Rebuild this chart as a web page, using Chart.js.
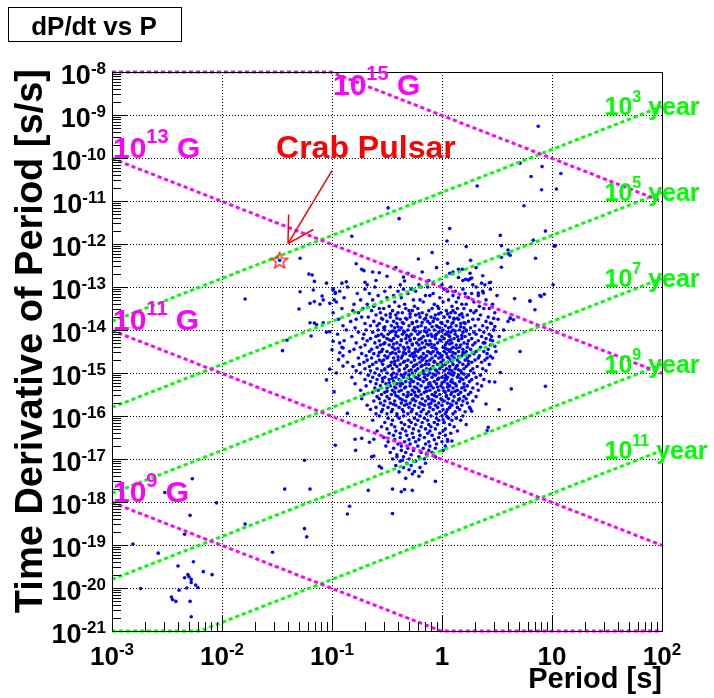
<!DOCTYPE html>
<html>
<head>
<meta charset="utf-8">
<script src="https://cdn.jsdelivr.net/npm/chart.js@4/dist/chart.umd.min.js"></script>
<style>
  html, body { margin: 0; padding: 0; background: #fff; }
  canvas { display: block; }
</style>
</head>
<body>
<canvas id="ppdot" width="714" height="698"></canvas>
<script>
// ---- Pulsar period / period-derivative data (log10 values) ----

// Main population: rows of equal log10(dP/dt), each listing log10(P) of the pulsars in that row
const coreRows = [
  [-13.00, [-0.86,-0.61,-0.47,-0.19,-0.13,0.08,0.31]],
  [-13.05, [-0.7,-0.35,-0.28,0.02,0.19,0.44]],
  [-13.10, [-0.93,-0.52,-0.4,-0.24,0.05,0.12,0.37]],
  [-13.15, [-0.77,-0.66,-0.31,-0.08,0.21,0.27]],
  [-13.20, [-0.58,-0.44,-0.15,-0.11,0.1,0.33,0.5]],
  [-13.25, [-0.89,-0.5,-0.37,-0.02,0.15,0.24]],
  [-13.30, [-0.74,-0.63,-0.26,-0.2,0.06,0.4]],
  [-13.35, [-0.96,-0.55,-0.43,-0.17,0.01,0.13,0.29]],
  [-13.40, [-0.8,-0.68,-0.34,-0.07,0.18,0.22,0.46]],
  [-13.45, [-0.62,-0.48,-0.39,-0.25,-0.04,0.09,0.34]],
  [-13.50, [-0.91,-0.72,-0.57,-0.53,-0.33,-0.22,-0.09,-0.03,0.14,0.2,0.38,0.43]],
  [-13.55, [-0.81,-0.64,-0.45,-0.3,-0.27,-0.12,0.04,0.1,0.26,0.31]],
  [-13.60, [-0.99,-0.76,-0.56,-0.4,-0.36,-0.18,-0.01,0.08,0.12,0.29,0.48]],
  [-13.65, [-0.85,-0.6,-0.51,-0.42,-0.24,-0.14,-0.06,0.16,0.23,0.35]],
  [-13.70, [-0.73,-0.67,-0.47,-0.29,-0.2,-0.1,0.02,0.07,0.19,0.42]],
  [-13.75, [-0.94,-0.78,-0.54,-0.38,-0.32,-0.16,-0.04,0.11,0.15,0.28,0.33,0.51]],
  [-13.80, [-0.83,-0.62,-0.5,-0.44,-0.23,-0.13,-0.08,0.05,0.24,0.4]],
  [-13.85, [-0.7,-0.57,-0.41,-0.35,-0.27,-0.11,0.0,0.09,0.17,0.21,0.45]],
  [-13.90, [-0.9,-0.65,-0.59,-0.46,-0.3,-0.19,-0.05,0.03,0.13,0.3,0.37]],
  [-13.95, [-0.79,-0.53,-0.43,-0.37,-0.25,-0.15,-0.02,0.06,0.2,0.26,0.41]],
  [-14.00, [-0.87,-0.69,-0.58,-0.52,-0.39,-0.31,-0.26,-0.12,-0.07,0.01,0.1,0.16,0.22,0.34,0.47]],
  [-14.05, [-0.76,-0.63,-0.47,-0.42,-0.34,-0.2,-0.14,-0.03,0.05,0.08,0.19,0.29,0.38]],
  [-14.10, [-0.95,-0.71,-0.55,-0.49,-0.36,-0.28,-0.22,-0.1,-0.05,0.03,0.12,0.25,0.31,0.43]],
  [-14.15, [-0.82,-0.6,-0.53,-0.4,-0.3,-0.17,-0.09,0.0,0.07,0.14,0.21,0.36,0.52]],
  [-14.20, [-0.72,-0.65,-0.5,-0.44,-0.33,-0.25,-0.19,-0.06,0.02,0.11,0.18,0.27,0.4]],
  [-14.25, [-0.89,-0.68,-0.57,-0.46,-0.37,-0.29,-0.15,-0.11,-0.01,0.06,0.15,0.24,0.33,0.46]],
  [-14.30, [-0.78,-0.61,-0.52,-0.41,-0.32,-0.23,-0.18,-0.04,0.04,0.09,0.2,0.3,0.39]],
  [-14.35, [-0.7,-0.56,-0.48,-0.38,-0.27,-0.21,-0.12,-0.07,0.03,0.13,0.17,0.28,0.44]],
  [-14.40, [-0.91,-0.74,-0.59,-0.45,-0.35,-0.31,-0.16,-0.09,0.01,0.1,0.16,0.23,0.35]],
  [-14.45, [-0.8,-0.64,-0.54,-0.43,-0.34,-0.24,-0.2,-0.05,0.05,0.08,0.19,0.26,0.42]],
  [-14.50, [-0.84,-0.66,-0.55,-0.5,-0.39,-0.3,-0.22,-0.13,-0.08,0.02,0.07,0.15,0.22,0.31,0.38,0.49]],
  [-14.55, [-0.73,-0.62,-0.47,-0.42,-0.33,-0.27,-0.17,-0.1,-0.02,0.04,0.12,0.2,0.29,0.41]],
  [-14.60, [-0.9,-0.69,-0.58,-0.52,-0.36,-0.29,-0.24,-0.14,-0.06,0.0,0.09,0.18,0.25,0.34]],
  [-14.65, [-0.76,-0.64,-0.5,-0.44,-0.37,-0.21,-0.16,-0.09,-0.03,0.06,0.11,0.23,0.33,0.46]],
  [-14.70, [-0.68,-0.57,-0.53,-0.4,-0.31,-0.25,-0.18,-0.11,0.01,0.08,0.14,0.21,0.3,0.39]],
  [-14.75, [-0.86,-0.71,-0.6,-0.46,-0.35,-0.28,-0.2,-0.07,-0.01,0.05,0.16,0.27,0.36]],
  [-14.80, [-0.75,-0.63,-0.54,-0.43,-0.38,-0.23,-0.15,-0.12,-0.04,0.03,0.1,0.19,0.24,0.43]],
  [-14.85, [-0.81,-0.66,-0.49,-0.41,-0.32,-0.26,-0.19,-0.08,0.0,0.07,0.13,0.22,0.32]],
  [-14.90, [-0.7,-0.59,-0.52,-0.45,-0.34,-0.22,-0.14,-0.1,-0.02,0.04,0.12,0.2,0.28,0.37]],
  [-14.95, [-0.78,-0.65,-0.55,-0.39,-0.3,-0.24,-0.17,-0.05,0.02,0.09,0.17,0.26,0.4]],
  [-15.00, [-0.74,-0.61,-0.5,-0.44,-0.33,-0.27,-0.18,-0.11,-0.03,0.06,0.11,0.18,0.29]],
  [-15.05, [-0.67,-0.57,-0.46,-0.37,-0.3,-0.21,-0.13,-0.06,0.03,0.1,0.15,0.24,0.35]],
  [-15.10, [-0.82,-0.63,-0.52,-0.42,-0.35,-0.24,-0.16,-0.09,0.0,0.05,0.14,0.22,0.31]],
  [-15.15, [-0.7,-0.59,-0.48,-0.39,-0.28,-0.2,-0.14,-0.04,0.04,0.09,0.19,0.27,0.38]],
  [-15.20, [-0.65,-0.54,-0.44,-0.33,-0.26,-0.17,-0.07,0.02,0.08,0.16,0.25,0.43]],
  [-15.25, [-0.79,-0.6,-0.51,-0.41,-0.36,-0.22,-0.12,-0.05,0.05,0.12,0.2,0.32]],
  [-15.30, [-0.69,-0.56,-0.47,-0.38,-0.29,-0.19,-0.1,-0.01,0.07,0.13,0.23,0.36]],
  [-15.35, [-0.61,-0.5,-0.42,-0.34,-0.23,-0.15,-0.08,0.01,0.1,0.18,0.28]],
  [-15.40, [-0.74,-0.58,-0.45,-0.37,-0.27,-0.21,-0.11,-0.03,0.06,0.14,0.21,0.33]],
  [-15.45, [-0.63,-0.52,-0.43,-0.31,-0.25,-0.16,-0.06,0.03,0.09,0.17,0.26]],
  [-15.50, [-0.71,-0.55,-0.46,-0.35,-0.28,-0.19,-0.09,-0.02,0.08,0.15,0.24]],
  [-15.55, [-0.59,-0.5,-0.4,-0.32,-0.22,-0.13,-0.05,0.04,0.11,0.2,0.31]],
  [-15.60, [-0.73,-0.57,-0.48,-0.38,-0.26,-0.18,-0.12,-0.01,0.06,0.16,0.22]],
  [-15.65, [-0.62,-0.52,-0.43,-0.33,-0.24,-0.15,-0.07,0.02,0.1,0.19,0.28]],
  [-15.70, [-0.56,-0.47,-0.37,-0.29,-0.2,-0.1,-0.03,0.05,0.13,0.23]],
  [-15.75, [-0.68,-0.53,-0.42,-0.34,-0.25,-0.16,-0.06,0.0,0.09,0.18]],
  [-15.80, [-0.6,-0.49,-0.39,-0.3,-0.21,-0.11,-0.04,0.07,0.14,0.25]],
  [-15.85, [-0.65,-0.54,-0.45,-0.36,-0.27,-0.17,-0.08,0.01,0.05,0.16]],
  [-15.90, [-0.55,-0.46,-0.35,-0.28,-0.19,-0.12,-0.02,0.04,0.12,0.21]],
  [-15.95, [-0.6,-0.5,-0.41,-0.31,-0.23,-0.14,-0.05,0.03,0.1]],
  [-16.00, [-0.57,-0.41,-0.35,-0.2,-0.1,0.0,0.19]],
  [-16.05, [-0.49,-0.39,-0.25,-0.16,-0.05,0.06,0.13]],
  [-16.10, [-0.63,-0.45,-0.3,-0.22,-0.13,-0.03,0.09,0.17]],
  [-16.15, [-0.52,-0.37,-0.28,-0.18,-0.07,0.02]],
  [-16.20, [-0.46,-0.34,-0.24,-0.12,-0.04,0.07,0.22]],
  [-16.25, [-0.55,-0.43,-0.3,-0.19,-0.1,0.11]],
  [-16.30, [-0.5,-0.36,-0.26,-0.15,-0.06,0.03]],
  [-16.35, [-0.59,-0.42,-0.33,-0.21,-0.11,0.01,0.14]],
  [-16.40, [-0.48,-0.38,-0.27,-0.13,-0.02,0.08]],
  [-16.45, [-0.44,-0.32,-0.2,-0.09,0.03]],
  [-16.50, [-0.53,-0.38,-0.26,-0.16,-0.03]],
  [-16.55, [-0.43,-0.3,-0.21,-0.07,0.05]],
  [-16.60, [-0.49,-0.34,-0.24,-0.12,0.0]],
  [-16.65, [-0.4,-0.29,-0.15,-0.05]],
  [-16.70, [-0.51,-0.37,-0.22,-0.11,0.03]],
  [-16.75, [-0.44,-0.31,-0.17,-0.06]],
  [-16.80, [-0.37,-0.26,-0.12,0.01]],
  [-16.85, [-0.47,-0.33,-0.19,-0.09]],
  [-16.90, [-0.41,-0.28,-0.14]],
  [-16.95, [-0.35,-0.21,-0.06]],
  [-17.00, [-0.45,-0.3,-0.16]],
  [-17.05, [-0.38,-0.24]],
  [-17.10, [-0.32,-0.15]],
  [-17.15, [-0.42,-0.28]],
  [-17.20, [-0.35,-0.2]],
  [-17.25, [-0.3]],
  [-17.30, [-0.39,-0.18]],
  [-17.35, [-0.27]],
  [-17.45, [-0.33]]
];

// Densest part of the population and the upper fringe, same layout as coreRows
const centreRows = [
  [-12.55, [-0.42,-0.05,0.31]],
  [-12.65, [-0.18,0.1]],
  [-12.75, [-0.5,-0.27,0.04]],
  [-12.85, [-0.6,-0.12,0.19]],
  [-12.95, [-0.38,-0.21,0.0,0.28]],
  [-13.625, [-0.47,-0.29,-0.21,-0.03,0.05,0.18]],
  [-13.725, [-0.55,-0.41,-0.33,-0.15,-0.07,0.11,0.14]],
  [-13.825, [-0.36,-0.27,-0.18,-0.01,0.1,0.2]],
  [-13.925, [-0.52,-0.4,-0.22,-0.09,-0.04,0.08,0.17]],
  [-14.025, [-0.45,-0.35,-0.24,-0.16,0.0,0.12,0.22]],
  [-14.125, [-0.58,-0.42,-0.32,-0.13,-0.06,0.06,0.18]],
  [-14.225, [-0.48,-0.37,-0.29,-0.21,-0.02,0.08,0.15]],
  [-14.325, [-0.53,-0.44,-0.27,-0.14,-0.1,0.07,0.23]],
  [-14.425, [-0.4,-0.3,-0.19,-0.06,0.03,0.13]],
  [-14.525, [-0.57,-0.45,-0.35,-0.25,-0.11,-0.04,0.1,0.19]],
  [-14.625, [-0.49,-0.4,-0.26,-0.19,-0.01,0.05,0.15]],
  [-14.725, [-0.55,-0.43,-0.34,-0.14,-0.07,0.09,0.24]],
  [-14.825, [-0.47,-0.32,-0.25,-0.18,0.0,0.14]],
  [-14.925, [-0.52,-0.39,-0.28,-0.12,-0.06,0.07,0.15]],
  [-15.025, [-0.41,-0.34,-0.16,-0.08,0.08,0.2]],
  [-15.125, [-0.54,-0.45,-0.3,-0.22,-0.03,0.03,0.17]],
  [-15.225, [-0.48,-0.38,-0.29,-0.11,0.0,0.1]],
  [-15.325, [-0.43,-0.33,-0.25,-0.13,-0.04,0.05,0.2]],
  [-15.425, [-0.5,-0.39,-0.21,-0.14,0.02,0.12]],
  [-15.525, [-0.42,-0.31,-0.24,-0.07,0.04]],
  [-15.625, [-0.36,-0.27,-0.09,0.0,0.15]],
  [-15.725, [-0.44,-0.32,-0.18,-0.12,0.08]]
];

// Scattered pulsars around the main population and the millisecond pulsars: [log10 P, log10 dP/dt]
const outerPulsars = [
  [0.875,-9.26],[0.71,-10.12],[0.91,-10.2],[1.08,-10.36],[0.81,-10.43],[0.905,-10.74],[1.04,-10.72],
  [0.32,-10.65],[0.745,-11.11],[0.07,-11.64],[0.045,-11.93],[0.53,-11.8],[0.94,-11.7],[0.83,-11.91],
  [1.02,-12.05],[0.22,-12.06],[-0.09,-12.2],[-0.215,-12.35],[0.05,-12.45],[0.26,-12.38],[0.6,-12.14],
  [0.54,-12.31],[0.85,-12.33],[0.54,-12.54],[0.07,-12.68],[0.15,-12.59],[0.24,-12.84],[0.37,-12.74],
  [0.43,-12.9],[1.01,-12.95],[0.93,-13.17],[0.66,-13.27],[0.8,-13.33],
  [-0.49,-11.16],[-0.39,-11.41],[-0.82,-11.82],[-1.29,-12.33],[-0.78,-12.46],[-0.73,-12.59],
  [-0.71,-12.62],[-1.21,-12.7],[-1.18,-12.72],[-1.16,-12.87],[-0.57,-12.67],[-0.63,-12.65],
  [-1.05,-12.91],[-0.91,-12.91],[-0.87,-12.88],[-0.7,-12.89],[-0.68,-12.95],[-1.29,-13.11],
  [-1.17,-13.07],[-1.09,-13.21],[-0.99,-13.04],[-0.97,-13.13],[-0.31,-12.68],[-0.35,-12.77],
  [-0.34,-12.86],[0.185,-12.59],[0.215,-12.82],[0.255,-12.81],[0.15,-12.78],[0.36,-12.91],
  [0.605,-12.23],[1.03,-12.04],[0.9,-13.22],[0.54,-12.04],[0.62,-12.26],
  [-1.79,-13.28],[-1.3,-13.51],[-1.2,-13.38],[-1.16,-13.34],[-1.11,-13.4],[-1.08,-13.3],[-1.02,-13.38],
  [-1.2,-13.83],[-1.16,-13.84],[-1.14,-13.88],[-1.19,-14.14],[-1.08,-13.83],[-1.05,-14.05],
  [-1.02,-14.04],[-1.41,-14.24],[-1.45,-14.48],[-1.05,-15.16],[-1.02,-14.91],[-0.98,-15.44],
  [-0.97,-16.68],[-1.25,-17.03],[-1.43,-17.7],[-1.2,-17.7],
  [-2.27,-17.46],[-2.52,-17.78],[-2.05,-18.02],[-2.29,-18.31],[-2.34,-18.75],[-1.79,-18.51],
  [-1.25,-18.62],[-1.23,-18.81],[-2.81,-18.98],[-2.58,-19.19],[-1.54,-19.17],[-2.4,-19.49],
  [-2.26,-19.39],[-2.17,-19.62],[-2.09,-19.69],[-2.34,-19.76],[-2.31,-19.69],[-2.3,-19.74],
  [-2.28,-19.8],[-2.28,-19.87],[-2.32,-20.0],[-2.24,-19.93],[-2.22,-19.99],[-2.39,-20.05],
  [-2.74,-20.01],[-2.46,-20.21],[-2.45,-20.27],[-2.42,-20.31],[-2.29,-20.31],[-2.28,-20.67],
  [-0.67,-17.73],[-0.45,-17.7],[-0.45,-18.27],[-0.86,-18.28],[-0.84,-18.1],
  [0.53,-14.99],[0.48,-15.21],[0.63,-15.37],[0.94,-15.31],[0.4,-15.72],[0.52,-15.85],[0.26,-15.84],
  [0.27,-15.89],[0.42,-16.26],[0.41,-16.34],[0.09,-16.58],[0.05,-16.59],[0.045,-16.01],[0.01,-16.09],
  [-0.785,-16.8],[-0.79,-16.54],[-0.73,-16.52],[-0.66,-16.61],[-0.62,-16.54],[-0.57,-17.17],
  [-0.55,-17.21],[-0.64,-16.95],[-0.62,-16.93],[-0.41,-16.95],[-0.36,-17.03],[-0.25,-17.29],
  [-0.21,-17.4],[-0.06,-17.52],[-0.27,-17.73],[-0.86,-15.94],[-0.34,-17.71],[-0.37,-17.76],
  [0.71,-14.5],[0.8,-13.32],[0.845,-13.53],[0.89,-13.2],[0.56,-14.0],[0.62,-13.72],[0.65,-13.76],
  [0.44,-14.23],[0.47,-14.0],[0.48,-14.38],[0.44,-14.61],[0.41,-14.65],
  [-0.99,-13.07],[-0.97,-13.15],[-0.98,-13.3],[-0.93,-14.3],[-0.9,-14.42],[-0.93,-14.53],
  [-0.94,-14.69],[-0.9,-14.84],[-0.99,-14.26],[-1.0,-14.46],[-0.96,-15.0],
  [0.6,-13.8],[0.62,-13.73],[0.47,-13.73],[0.44,-13.84],[0.48,-13.92],[0.45,-14.15],[0.375,-14.3],
  [0.39,-12.95],[0.44,-12.89],[0.375,-13.14],[0.33,-13.14],[0.27,-12.79],[0.255,-12.68],
  [-1.476,-12.38]
];

// Crab pulsar: period [s], dP/dt [s/s]
const crabPulsar = { period: 0.0334, pdot: 4.2e-13 };

// Constant magnetic field lines B = 3.2e19 sqrt(P dP/dt), limited to the frame: [P, dP/dt]
const fieldLines = [
  { sup: '15', points: [[1e-3, 1e-8], [0.0977, 1e-8], [100, 9.77e-12]] },
  { sup: '13', points: [[1e-3, 9.77e-11], [100, 9.77e-16]] },
  { sup: '11', points: [[1e-3, 9.77e-15], [100, 9.77e-20]] },
  { sup: '9',  points: [[1e-3, 9.77e-19], [0.977, 1e-21], [100, 1e-21]] }
];

// Constant characteristic age lines tau = P / (2 dP/dt), limited to the frame: [P, dP/dt]
const ageLines = [
  { sup: '3',  points: [[1e-3, 1.585e-14], [100, 1.585e-9]] },
  { sup: '5',  points: [[1e-3, 1.585e-16], [100, 1.585e-11]] },
  { sup: '7',  points: [[1e-3, 1.585e-18], [100, 1.585e-13]] },
  { sup: '9',  points: [[1e-3, 1.585e-20], [100, 1.585e-15]] },
  { sup: '11', points: [[1e-3, 1e-21], [6.31e-3, 1e-21], [100, 1.585e-17]] }
];

// Axis decades
const xTickExps = [-3, -2, -1, 0, 1, 2];
const yTickExps = [-8, -9, -10, -11, -12, -13, -14, -15, -16, -17, -18, -19, -20, -21];

// ---- Label placement (data coordinates of each label's baseline start) ----
const fieldLabelAt = { '15': [0.1, 2.95e-9], '13': [1e-3, 1e-10], '11': [1e-3, 1e-14], '9': [1e-3, 1e-18] };
const ageLabelAt = { '3': [30, 1e-9], '5': [30, 1e-11], '7': [30, 1e-13], '9': [30, 1e-15], '11': [30, 1e-17] };
const crabLabelAt = [0.031, 1e-10];
const crabArrow = { from: [0.1, 5.1e-11], to: [0.0398, 1.02e-12] };

// ---- Build datasets ----
const pulsarPoints = [];
[...coreRows, ...centreRows].forEach(([d, ps]) =>
  ps.forEach(p => pulsarPoints.push({ x: Math.pow(10, p), y: Math.pow(10, d) })));
outerPulsars.forEach(([p, d]) => pulsarPoints.push({ x: Math.pow(10, p), y: Math.pow(10, d) }));

const MAGENTA = '#ff00ff', GREEN = '#00ff00', RED = '#ff0000', BLUE = '#0000ff';
const FONT = '"Liberation Sans", Arial, Helvetica, sans-serif';

function starImage() {
  const c = document.createElement('canvas');
  c.width = 20; c.height = 20;
  const g = c.getContext('2d');
  g.strokeStyle = RED; g.lineWidth = 1.2;
  g.beginPath();
  for (let i = 0; i < 10; i++) {
    const r = i % 2 === 0 ? 8.5 : 3.6;
    const a = -Math.PI / 2 + i * Math.PI / 5;
    const px = 10 + r * Math.cos(a), py = 10.8 + r * Math.sin(a);
    if (i === 0) g.moveTo(px, py); else g.lineTo(px, py);
  }
  g.closePath(); g.stroke();
  return c;
}

function lineDataset(pts, color) {
  return {
    type: 'line',
    data: pts.map(([x, y]) => ({ x, y })),
    borderColor: color, borderWidth: 3, borderDash: [4, 3],
    pointRadius: 0, pointHoverRadius: 0, fill: false, tension: 0, clip: false
  };
}

const datasets = [
  { type: 'scatter', data: [{ x: crabPulsar.period, y: crabPulsar.pdot }],
    pointStyle: starImage(), pointRadius: 9, pointHoverRadius: 9 },
  ...fieldLines.map(l => lineDataset(l.points, MAGENTA)),
  ...ageLines.map(l => lineDataset(l.points, GREEN)),
  { type: 'scatter', data: pulsarPoints, pointStyle: 'circle', pointRadius: 1.8, pointHoverRadius: 1.8,
    backgroundColor: BLUE, borderWidth: 0 }
];

// Text with a superscript exponent, e.g. 10^15 G
function drawPower(ctx, x, y, base, sup, tail, size, supSize, rise, align) {
  ctx.font = `bold ${size}px ${FONT}`;
  const wb = ctx.measureText(base).width;
  const wt = tail ? ctx.measureText(tail).width : 0;
  ctx.font = `bold ${supSize}px ${FONT}`;
  const ws = sup ? ctx.measureText(sup).width : 0;
  const total = wb + ws + wt;
  const x0 = align === 'right' ? x - total : align === 'center' ? x - total / 2 : x;
  ctx.textAlign = 'left'; ctx.textBaseline = 'alphabetic';
  ctx.font = `bold ${size}px ${FONT}`;
  ctx.fillText(base, x0, y);
  if (sup) { ctx.font = `bold ${supSize}px ${FONT}`; ctx.fillText(sup, x0 + wb, y - rise); }
  if (tail) { ctx.font = `bold ${size}px ${FONT}`; ctx.fillText(tail, x0 + wb + ws, y); }
}

const frameGrid = {
  id: 'frameGrid',
  beforeDatasetsDraw(chart) {
    const { ctx, chartArea: a, scales: { x, y } } = chart;
    ctx.save();
    ctx.strokeStyle = '#000'; ctx.lineWidth = 1; ctx.setLineDash([1, 2]);
    xTickExps.forEach(e => {
      const px = Math.round(x.getPixelForValue(Math.pow(10, e))) + 0.5;
      if (px <= a.left + 1 || px >= a.right - 1) return;
      ctx.beginPath(); ctx.moveTo(px, a.top); ctx.lineTo(px, a.bottom); ctx.stroke();
    });
    yTickExps.forEach(e => {
      const py = Math.round(y.getPixelForValue(Math.pow(10, e))) + 0.5;
      if (py <= a.top + 1 || py >= a.bottom - 1) return;
      ctx.beginPath(); ctx.moveTo(a.left, py); ctx.lineTo(a.right, py); ctx.stroke();
    });
    ctx.restore();
  },
  afterDatasetsDraw(chart) {
    const { ctx, chartArea: a, scales: { x, y } } = chart;
    ctx.save();
    ctx.setLineDash([]);
    // frame
    ctx.strokeStyle = '#000'; ctx.lineWidth = 1;
    ctx.strokeRect(Math.round(a.left) + 0.5, Math.round(a.top) + 0.5,
      Math.round(a.right - a.left), Math.round(a.bottom - a.top));
    // axis ticks (major at decades, minor at 2..9)
    ctx.beginPath();
    const xMin = Math.min(...xTickExps), xMax = Math.max(...xTickExps);
    for (let e = xMin; e <= xMax; e++) {
      for (let k = 1; k <= 9; k++) {
        const v = k * Math.pow(10, e);
        if (v > Math.pow(10, xMax) * 1.0001) break;
        const px = Math.round(x.getPixelForValue(v)) + 0.5;
        const len = k === 1 ? 15 : 9;
        ctx.moveTo(px, a.bottom); ctx.lineTo(px, a.bottom - len);
      }
    }
    const yMin = Math.min(...yTickExps), yMax = Math.max(...yTickExps);
    for (let e = yMin; e <= yMax; e++) {
      for (let k = 1; k <= 9; k++) {
        const v = k * Math.pow(10, e);
        if (v > Math.pow(10, yMax) * 1.0001) break;
        const py = Math.round(y.getPixelForValue(v)) + 0.5;
        const len = k === 1 ? 15 : 9;
        ctx.moveTo(a.left, py); ctx.lineTo(a.left + len, py);
      }
    }
    ctx.stroke();

    // tick labels
    ctx.fillStyle = '#000';
    xTickExps.forEach(e => {
      const px = x.getPixelForValue(Math.pow(10, e));
      const by = a.bottom + 34;
      if (e === 0) drawPower(ctx, px, by, '1', '', '', 26, 17, 10, 'center');
      else if (e === 1) drawPower(ctx, px, by, '10', '', '', 26, 17, 10, 'center');
      else drawPower(ctx, px, by, '10', String(e), '', 26, 17, 10, 'center');
    });
    yTickExps.forEach(e => {
      const py = y.getPixelForValue(Math.pow(10, e));
      drawPower(ctx, a.left - 6, py + 12, '10', String(e), '', 27, 17, 10, 'right');
    });

    // field line labels
    ctx.fillStyle = MAGENTA;
    fieldLines.forEach(l => {
      const [p, d] = fieldLabelAt[l.sup];
      drawPower(ctx, x.getPixelForValue(p) + 1, y.getPixelForValue(d), '10', l.sup, ' G', 30, 20, 15, 'left');
    });
    // age line labels
    ctx.fillStyle = GREEN;
    ageLines.forEach(l => {
      const [p, d] = ageLabelAt[l.sup];
      drawPower(ctx, x.getPixelForValue(p), y.getPixelForValue(d), '10', l.sup, ' year', 25, 16, 13, 'left');
    });

    // Crab Pulsar label and arrow
    ctx.fillStyle = RED;
    ctx.font = `bold 32px ${FONT}`;
    ctx.textAlign = 'left'; ctx.textBaseline = 'alphabetic';
    ctx.fillText('Crab Pulsar', x.getPixelForValue(crabLabelAt[0]), y.getPixelForValue(crabLabelAt[1]));
    const x1 = x.getPixelForValue(crabArrow.from[0]), y1 = y.getPixelForValue(crabArrow.from[1]);
    const x2 = x.getPixelForValue(crabArrow.to[0]), y2 = y.getPixelForValue(crabArrow.to[1]);
    const ang = Math.atan2(y1 - y2, x1 - x2);
    ctx.strokeStyle = RED; ctx.lineWidth = 1.5;
    ctx.beginPath();
    ctx.moveTo(x1, y1); ctx.lineTo(x2, y2);
    [-0.52, 0.52].forEach(da => {
      ctx.moveTo(x2, y2);
      ctx.lineTo(x2 + 29 * Math.cos(ang + da), y2 + 29 * Math.sin(ang + da));
    });
    ctx.stroke();

    // title box
    ctx.fillStyle = '#000'; ctx.strokeStyle = '#000'; ctx.lineWidth = 1;
    ctx.strokeRect(8.5, 7.5, 173, 34);
    ctx.font = `bold 26px ${FONT}`;
    ctx.textAlign = 'center';
    ctx.fillText('dP/dt vs P', 94, 35);

    // axis titles
    ctx.font = `bold 29px ${FONT}`;
    ctx.textAlign = 'right';
    ctx.fillText('Period [s]', a.right, a.bottom + 57);
    ctx.save();
    ctx.translate(42, a.top - 3);
    ctx.rotate(-Math.PI / 2);
    ctx.font = `bold 38px ${FONT}`;
    ctx.textAlign = 'right';
    ctx.fillText('Time Derivative of Period [s/s]', 0, 0);
    ctx.restore();
    ctx.restore();
  }
};

new Chart(document.getElementById('ppdot'), {
  type: 'scatter',
  data: { datasets },
  options: {
    responsive: false,
    animation: false,
    devicePixelRatio: 1,
    layout: { padding: { left: 112, right: 52, top: 72, bottom: 67 } },
    plugins: { legend: { display: false }, tooltip: { enabled: false } },
    events: [],
    scales: {
      x: { type: 'logarithmic', min: 1e-3, max: 1e2, display: false },
      y: { type: 'logarithmic', min: 1e-21, max: 1e-8, display: false }
    }
  },
  plugins: [frameGrid]
});
</script>
</body>
</html>
